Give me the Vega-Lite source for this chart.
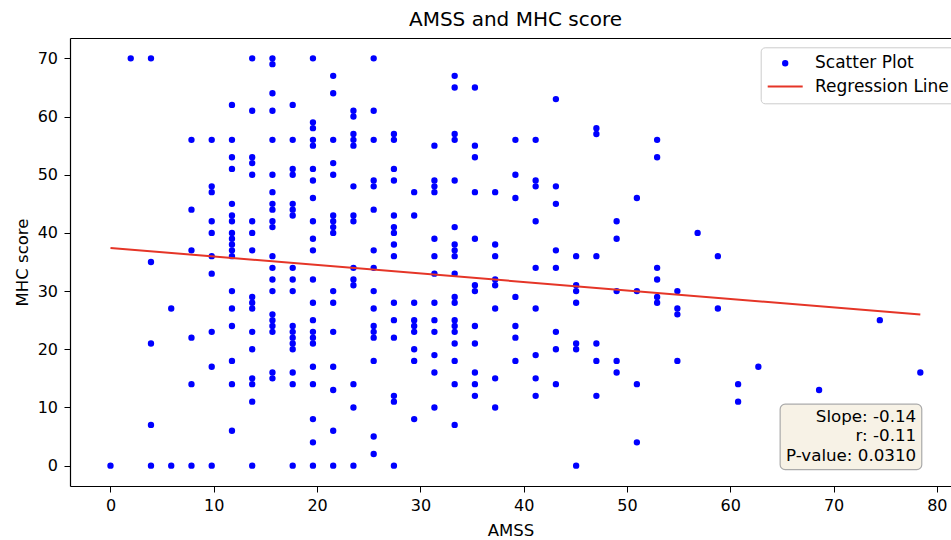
{
  "$schema": "https://vega.github.io/schema/vega-lite/v6.json",
  "width": 881,
  "height": 448,
  "autosize": {"type": "none"},
  "padding": {"left": 70, "top": 38, "right": 0, "bottom": 54},
  "background": "white",
  "title": {"text": "AMSS and MHC score", "fontSize": 20, "fontWeight": "normal", "color": "black", "font": "DejaVu Sans", "anchor": "middle", "dx": 5, "baseline": "alphabetic", "offset": -8},
  "config": {
    "font": "DejaVu Sans",
    "view": {"stroke": null},
    "axis": {"grid": false, "labelFontSize": 16, "titleFontSize": 16.5, "titleFontWeight": "normal", "labelColor": "black", "titleColor": "black", "tickColor": "black", "domainColor": "black", "tickSize": 6, "tickWidth": 1, "domainWidth": 1.2, "labelFont": "DejaVu Sans", "titleFont": "DejaVu Sans"},
    "legend": {
      "orient": "none", "legendX": 690.7, "legendY": 9.3, "title": null,
      "padding": 6, "rowPadding": 3.3, "clipHeight": 20, "labelFontSize": 17, "labelColor": "black", "labelFont": "DejaVu Sans",
      "labelOffset": 11.3, "symbolStrokeWidth": 2, "symbolOpacity": 1, "fillColor": "white", "strokeColor": "#cccccc", "cornerRadius": 4
    }
  },
  "datasets": {
    "scores": [
      {"AMSS":0,"MHC":0},
      {"AMSS":1.96,"MHC":70},
      {"AMSS":3.92,"MHC":70},{"AMSS":3.92,"MHC":35},{"AMSS":3.92,"MHC":21},{"AMSS":3.92,"MHC":7},{"AMSS":3.92,"MHC":0},
      {"AMSS":5.88,"MHC":27},{"AMSS":5.88,"MHC":0},
      {"AMSS":7.84,"MHC":56},{"AMSS":7.84,"MHC":44},{"AMSS":7.84,"MHC":37},{"AMSS":7.84,"MHC":22},{"AMSS":7.84,"MHC":14},{"AMSS":7.84,"MHC":0},
      {"AMSS":9.8,"MHC":56},{"AMSS":9.8,"MHC":48},{"AMSS":9.8,"MHC":47},{"AMSS":9.8,"MHC":42},{"AMSS":9.8,"MHC":40},{"AMSS":9.8,"MHC":36},{"AMSS":9.8,"MHC":33},{"AMSS":9.8,"MHC":23},{"AMSS":9.8,"MHC":17},{"AMSS":9.8,"MHC":0},
      {"AMSS":11.76,"MHC":62},{"AMSS":11.76,"MHC":56},{"AMSS":11.76,"MHC":53},{"AMSS":11.76,"MHC":51},{"AMSS":11.76,"MHC":45},{"AMSS":11.76,"MHC":43},{"AMSS":11.76,"MHC":42},{"AMSS":11.76,"MHC":40},{"AMSS":11.76,"MHC":39},{"AMSS":11.76,"MHC":38},{"AMSS":11.76,"MHC":37},{"AMSS":11.76,"MHC":36},{"AMSS":11.76,"MHC":30},{"AMSS":11.76,"MHC":27},{"AMSS":11.76,"MHC":24},{"AMSS":11.76,"MHC":18},{"AMSS":11.76,"MHC":14},{"AMSS":11.76,"MHC":6},
      {"AMSS":13.72,"MHC":70},{"AMSS":13.72,"MHC":61},{"AMSS":13.72,"MHC":53},{"AMSS":13.72,"MHC":52},{"AMSS":13.72,"MHC":50},{"AMSS":13.72,"MHC":42},{"AMSS":13.72,"MHC":40},{"AMSS":13.72,"MHC":37},{"AMSS":13.72,"MHC":29},{"AMSS":13.72,"MHC":28},{"AMSS":13.72,"MHC":27},{"AMSS":13.72,"MHC":23},{"AMSS":13.72,"MHC":20},{"AMSS":13.72,"MHC":15},{"AMSS":13.72,"MHC":14},{"AMSS":13.72,"MHC":11},{"AMSS":13.72,"MHC":0},
      {"AMSS":15.68,"MHC":70},{"AMSS":15.68,"MHC":69},{"AMSS":15.68,"MHC":64},{"AMSS":15.68,"MHC":61},{"AMSS":15.68,"MHC":56},{"AMSS":15.68,"MHC":50},{"AMSS":15.68,"MHC":47},{"AMSS":15.68,"MHC":45},{"AMSS":15.68,"MHC":44},{"AMSS":15.68,"MHC":42},{"AMSS":15.68,"MHC":41},{"AMSS":15.68,"MHC":36},{"AMSS":15.68,"MHC":34},{"AMSS":15.68,"MHC":32},{"AMSS":15.68,"MHC":30},{"AMSS":15.68,"MHC":26},{"AMSS":15.68,"MHC":25},{"AMSS":15.68,"MHC":24},{"AMSS":15.68,"MHC":23},{"AMSS":15.68,"MHC":16},{"AMSS":15.68,"MHC":15},
      {"AMSS":17.64,"MHC":62},{"AMSS":17.64,"MHC":56},{"AMSS":17.64,"MHC":51},{"AMSS":17.64,"MHC":50},{"AMSS":17.64,"MHC":45},{"AMSS":17.64,"MHC":44},{"AMSS":17.64,"MHC":43},{"AMSS":17.64,"MHC":34},{"AMSS":17.64,"MHC":32},{"AMSS":17.64,"MHC":30},{"AMSS":17.64,"MHC":24},{"AMSS":17.64,"MHC":23},{"AMSS":17.64,"MHC":22},{"AMSS":17.64,"MHC":21},{"AMSS":17.64,"MHC":20},{"AMSS":17.64,"MHC":16},{"AMSS":17.64,"MHC":14},{"AMSS":17.64,"MHC":0},
      {"AMSS":19.6,"MHC":70},{"AMSS":19.6,"MHC":59},{"AMSS":19.6,"MHC":58},{"AMSS":19.6,"MHC":56},{"AMSS":19.6,"MHC":55},{"AMSS":19.6,"MHC":51},{"AMSS":19.6,"MHC":49},{"AMSS":19.6,"MHC":46},{"AMSS":19.6,"MHC":42},{"AMSS":19.6,"MHC":39},{"AMSS":19.6,"MHC":37},{"AMSS":19.6,"MHC":32},{"AMSS":19.6,"MHC":28},{"AMSS":19.6,"MHC":25},{"AMSS":19.6,"MHC":23},{"AMSS":19.6,"MHC":22},{"AMSS":19.6,"MHC":21},{"AMSS":19.6,"MHC":17},{"AMSS":19.6,"MHC":14},{"AMSS":19.6,"MHC":8},{"AMSS":19.6,"MHC":4},{"AMSS":19.6,"MHC":0},
      {"AMSS":21.56,"MHC":67},{"AMSS":21.56,"MHC":64},{"AMSS":21.56,"MHC":56},{"AMSS":21.56,"MHC":52},{"AMSS":21.56,"MHC":50},{"AMSS":21.56,"MHC":43},{"AMSS":21.56,"MHC":42},{"AMSS":21.56,"MHC":41},{"AMSS":21.56,"MHC":40},{"AMSS":21.56,"MHC":30},{"AMSS":21.56,"MHC":28},{"AMSS":21.56,"MHC":23},{"AMSS":21.56,"MHC":17},{"AMSS":21.56,"MHC":13},{"AMSS":21.56,"MHC":6},{"AMSS":21.56,"MHC":0},
      {"AMSS":23.52,"MHC":61},{"AMSS":23.52,"MHC":60},{"AMSS":23.52,"MHC":57},{"AMSS":23.52,"MHC":56},{"AMSS":23.52,"MHC":55},{"AMSS":23.52,"MHC":48},{"AMSS":23.52,"MHC":43},{"AMSS":23.52,"MHC":42},{"AMSS":23.52,"MHC":34},{"AMSS":23.52,"MHC":32},{"AMSS":23.52,"MHC":31},{"AMSS":23.52,"MHC":14},{"AMSS":23.52,"MHC":10},{"AMSS":23.52,"MHC":0},
      {"AMSS":25.48,"MHC":70},{"AMSS":25.48,"MHC":61},{"AMSS":25.48,"MHC":56},{"AMSS":25.48,"MHC":49},{"AMSS":25.48,"MHC":48},{"AMSS":25.48,"MHC":44},{"AMSS":25.48,"MHC":37},{"AMSS":25.48,"MHC":34},{"AMSS":25.48,"MHC":30},{"AMSS":25.48,"MHC":27},{"AMSS":25.48,"MHC":24},{"AMSS":25.48,"MHC":23},{"AMSS":25.48,"MHC":22},{"AMSS":25.48,"MHC":18},{"AMSS":25.48,"MHC":5},{"AMSS":25.48,"MHC":2},
      {"AMSS":27.44,"MHC":57},{"AMSS":27.44,"MHC":56},{"AMSS":27.44,"MHC":51},{"AMSS":27.44,"MHC":49},{"AMSS":27.44,"MHC":43},{"AMSS":27.44,"MHC":41},{"AMSS":27.44,"MHC":40},{"AMSS":27.44,"MHC":38},{"AMSS":27.44,"MHC":36},{"AMSS":27.44,"MHC":28},{"AMSS":27.44,"MHC":25},{"AMSS":27.44,"MHC":22},{"AMSS":27.44,"MHC":12},{"AMSS":27.44,"MHC":11},{"AMSS":27.44,"MHC":0},
      {"AMSS":29.4,"MHC":47},{"AMSS":29.4,"MHC":43},{"AMSS":29.4,"MHC":28},{"AMSS":29.4,"MHC":25},{"AMSS":29.4,"MHC":24},{"AMSS":29.4,"MHC":23},{"AMSS":29.4,"MHC":20},{"AMSS":29.4,"MHC":18},{"AMSS":29.4,"MHC":8},
      {"AMSS":31.36,"MHC":55},{"AMSS":31.36,"MHC":49},{"AMSS":31.36,"MHC":48},{"AMSS":31.36,"MHC":47},{"AMSS":31.36,"MHC":39},{"AMSS":31.36,"MHC":36},{"AMSS":31.36,"MHC":33},{"AMSS":31.36,"MHC":28},{"AMSS":31.36,"MHC":25},{"AMSS":31.36,"MHC":23},{"AMSS":31.36,"MHC":19},{"AMSS":31.36,"MHC":16},{"AMSS":31.36,"MHC":10},
      {"AMSS":33.32,"MHC":67},{"AMSS":33.32,"MHC":65},{"AMSS":33.32,"MHC":57},{"AMSS":33.32,"MHC":56},{"AMSS":33.32,"MHC":49},{"AMSS":33.32,"MHC":41},{"AMSS":33.32,"MHC":38},{"AMSS":33.32,"MHC":37},{"AMSS":33.32,"MHC":36},{"AMSS":33.32,"MHC":33},{"AMSS":33.32,"MHC":29},{"AMSS":33.32,"MHC":28},{"AMSS":33.32,"MHC":25},{"AMSS":33.32,"MHC":24},{"AMSS":33.32,"MHC":23},{"AMSS":33.32,"MHC":21},{"AMSS":33.32,"MHC":18},{"AMSS":33.32,"MHC":14},{"AMSS":33.32,"MHC":7},
      {"AMSS":35.28,"MHC":65},{"AMSS":35.28,"MHC":55},{"AMSS":35.28,"MHC":53},{"AMSS":35.28,"MHC":47},{"AMSS":35.28,"MHC":39},{"AMSS":35.28,"MHC":31},{"AMSS":35.28,"MHC":30},{"AMSS":35.28,"MHC":24},{"AMSS":35.28,"MHC":21},{"AMSS":35.28,"MHC":16},{"AMSS":35.28,"MHC":14},{"AMSS":35.28,"MHC":12},
      {"AMSS":37.24,"MHC":47},{"AMSS":37.24,"MHC":38},{"AMSS":37.24,"MHC":36},{"AMSS":37.24,"MHC":32},{"AMSS":37.24,"MHC":31},{"AMSS":37.24,"MHC":27},{"AMSS":37.24,"MHC":15},{"AMSS":37.24,"MHC":10},
      {"AMSS":39.2,"MHC":56},{"AMSS":39.2,"MHC":50},{"AMSS":39.2,"MHC":46},{"AMSS":39.2,"MHC":29},{"AMSS":39.2,"MHC":24},{"AMSS":39.2,"MHC":22},{"AMSS":39.2,"MHC":18},
      {"AMSS":41.16,"MHC":56},{"AMSS":41.16,"MHC":49},{"AMSS":41.16,"MHC":48},{"AMSS":41.16,"MHC":42},{"AMSS":41.16,"MHC":34},{"AMSS":41.16,"MHC":27},{"AMSS":41.16,"MHC":19},{"AMSS":41.16,"MHC":15},{"AMSS":41.16,"MHC":12},
      {"AMSS":43.12,"MHC":63},{"AMSS":43.12,"MHC":48},{"AMSS":43.12,"MHC":45},{"AMSS":43.12,"MHC":37},{"AMSS":43.12,"MHC":34},{"AMSS":43.12,"MHC":23},{"AMSS":43.12,"MHC":20},{"AMSS":43.12,"MHC":14},
      {"AMSS":45.08,"MHC":36},{"AMSS":45.08,"MHC":31},{"AMSS":45.08,"MHC":30},{"AMSS":45.08,"MHC":28},{"AMSS":45.08,"MHC":21},{"AMSS":45.08,"MHC":20},{"AMSS":45.08,"MHC":0},
      {"AMSS":47.04,"MHC":58},{"AMSS":47.04,"MHC":57},{"AMSS":47.04,"MHC":36},{"AMSS":47.04,"MHC":21},{"AMSS":47.04,"MHC":18},{"AMSS":47.04,"MHC":12},
      {"AMSS":49,"MHC":42},{"AMSS":49,"MHC":39},{"AMSS":49,"MHC":30},{"AMSS":49,"MHC":18},{"AMSS":49,"MHC":16},
      {"AMSS":50.96,"MHC":46},{"AMSS":50.96,"MHC":30},{"AMSS":50.96,"MHC":14},{"AMSS":50.96,"MHC":4},
      {"AMSS":52.92,"MHC":56},{"AMSS":52.92,"MHC":53},{"AMSS":52.92,"MHC":34},{"AMSS":52.92,"MHC":32},{"AMSS":52.92,"MHC":29},{"AMSS":52.92,"MHC":28},
      {"AMSS":54.88,"MHC":30},{"AMSS":54.88,"MHC":27},{"AMSS":54.88,"MHC":26},{"AMSS":54.88,"MHC":18},
      {"AMSS":56.84,"MHC":40},
      {"AMSS":58.8,"MHC":36},{"AMSS":58.8,"MHC":27},
      {"AMSS":60.76,"MHC":14},{"AMSS":60.76,"MHC":11},
      {"AMSS":62.72,"MHC":17},
      {"AMSS":68.6,"MHC":13},
      {"AMSS":74.48,"MHC":25},
      {"AMSS":78.4,"MHC":16}
    ],
    "fit": [
      {"AMSS": 0, "MHC": 37.41},
      {"AMSS": 78.4, "MHC": 25.97}
    ]
  },
  "layer": [
    {
      "data": {"name": "scores"},
      "mark": {"type": "point", "filled": false, "fill": "#0000ff", "opacity": 1},
      "encoding": {
        "x": {"field": "AMSS", "type": "quantitative",
              "scale": {"domain": [-3.92, 81.37], "nice": false, "zero": false},
              "axis": {"orient": "bottom", "values": [0, 10, 20, 30, 40, 50, 60, 70, 80], "title": "AMSS", "labelPadding": 5, "titlePadding": 9, "labelFlush": false, "labelOverlap": false}},
        "y": {"field": "MHC", "type": "quantitative",
              "scale": {"domain": [-3.5, 73.5], "nice": false, "zero": false},
              "axis": {"orient": "left", "values": [0, 10, 20, 30, 40, 50, 60, 70], "title": "MHC score", "labelPadding": 6.5, "titlePadding": 7, "labelFlush": false, "labelOverlap": false}},
        "color": {"datum": "Scatter Plot", "type": "nominal",
                  "scale": {"domain": ["Scatter Plot", "Regression Line"], "range": ["#0000ff", "#e53527"]}},
        "shape": {"datum": "Scatter Plot", "type": "nominal",
                  "scale": {"domain": ["Scatter Plot", "Regression Line"], "range": ["circle", "stroke"]}},
        "size": {"datum": "Scatter Plot", "type": "nominal",
                 "scale": {"type": "ordinal", "domain": ["Scatter Plot", "Regression Line"], "range": [19, 1225]}}
      }
    },
    {
      "data": {"name": "fit"},
      "mark": {"type": "line", "strokeWidth": 2},
      "encoding": {
        "x": {"field": "AMSS", "type": "quantitative",
              "axis": {"orient": "top", "labels": false, "ticks": false, "title": null, "domain": true, "grid": false}},
        "y": {"field": "MHC", "type": "quantitative"},
        "color": {"datum": "Regression Line", "type": "nominal"}
      }
    },
    {
      "data": {"values": [{}]},
      "mark": {"type": "rect", "fill": "#f7f2e6", "stroke": "#aaaaaa", "strokeWidth": 1.2, "cornerRadius": 5},
      "encoding": {
        "x": {"datum": 64.83, "type": "quantitative", "axis": null},
        "x2": {"datum": 78.54},
        "y": {"datum": 10.57, "type": "quantitative"},
        "y2": {"datum": -0.69}
      }
    },
    {
      "data": {"values": [{}]},
      "mark": {"type": "text", "text": ["Slope: -0.14", "r: -0.11", "P-value: 0.0310"], "align": "right", "baseline": "middle", "fontSize": 16.7, "lineHeight": 19.3, "color": "black", "font": "DejaVu Sans"},
      "encoding": {
        "x": {"datum": 78.0, "type": "quantitative", "axis": null},
        "y": {"datum": 8.36, "type": "quantitative"}
      }
    }
  ]
}
